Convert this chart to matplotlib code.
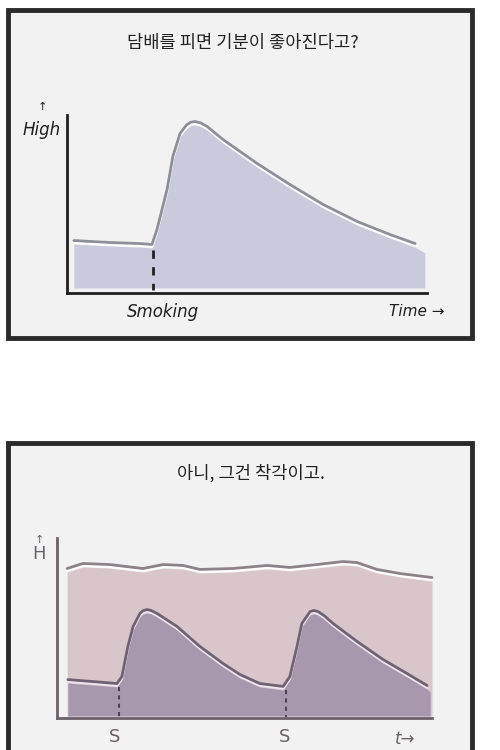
import matplotlib
matplotlib.use("Agg")
import matplotlib.pyplot as plt
import matplotlib.transforms as mtransforms
from matplotlib.patches import Rectangle

plt.rcParams['font.family'] = ['Noto Sans CJK KR', 'DejaVu Sans']

# --- top panel: one cigarette (time 0-100, "high" 0-100)
top_title = "담배를 피면 기분이 좋아진다고?"
top_t = [1.9, 11.9, 20.3, 23.6, 25.0, 27.8, 29.4, 31.4, 32.5, 33.3, 34.4, 35.6, 37.2,
         38.9, 43.3, 52.8, 61.9, 71.1, 80.6, 89.7, 96.7, 99.4]
top_high = [27.5, 26.4, 25.8, 25.3, 33.7, 56.2, 74.7, 87.6, 90.6, 92.6, 94.0, 94.4, 93.5,
            91.6, 84.3, 70.8, 59.0, 47.8, 38.2, 30.9, 25.8, 22.5]
top_base = 2.8
top_smoke_t = 23.9
top_smoke_high = 24.0

# --- bottom panel: real baseline vs repeated smoking
bot_title = "아니, 그건 착각이고."
base_t = [2.7, 6.9, 14.1, 22.9, 28.3, 33.6, 38.1, 46.9, 56.0, 62.1, 69.3, 76.3,
          80.0, 85.3, 91.5, 100.0]
base_high = [81.1, 83.9, 83.3, 81.1, 83.3, 82.8, 80.6, 81.1, 82.8, 81.7, 83.3, 85.0,
             84.4, 80.6, 78.3, 76.1]
smoke_t = [2.9, 9.6, 16.0, 17.3, 18.9, 20.3, 22.1, 22.9, 24.0, 25.1, 26.7, 32.0, 38.1,
           44.3, 48.8, 54.1, 60.3, 62.1, 64.0, 65.3, 67.5, 68.5, 69.6, 71.2, 73.6, 80.0,
           86.9, 93.3, 98.7, 99.5]
smoke_high = [19.4, 18.3, 17.2, 21.1, 37.8, 48.9, 56.1, 57.6, 58.3, 57.8, 56.1, 48.9, 37.8,
              28.3, 22.2, 17.2, 15.6, 21.1, 37.8, 50.6, 57.2, 57.8, 57.2, 55.0, 50.6, 40.6,
              30.6, 22.8, 16.1, 14.4]
bot_base = 1.1
bot_smoke_t = [16.5, 61.1]
bot_smoke_high = [17.0, 15.5]

W, H = 500, 750
fig = plt.figure(figsize=(5, 7.5), dpi=100)
fig.patch.set_facecolor('white')


def box(x0, y0, x1, y1):
    # pixel box (top-left origin) -> figure fraction rect
    return [x0 / W, 1 - y1 / H, (x1 - x0) / W, (y1 - y0) / H]


# panel frames
for y0, y1 in [(10, 338), (443, 780)]:
    r = box(8, y0, 472, y1)
    fig.patches.append(Rectangle((r[0], r[1]), r[2], r[3], transform=fig.transFigure,
                                 facecolor='#f2f2f2', edgecolor='#2b2b2b', lw=3.5, zorder=-5))


def style_axes(ax, color):
    ax.set_facecolor('none')
    for s in ['top', 'right']:
        ax.spines[s].set_visible(False)
    for s in ['left', 'bottom']:
        ax.spines[s].set_color(color)
        ax.spines[s].set_linewidth(2)
    ax.set_xticks([])
    ax.set_yticks([])
    ax.set_xlim(0, 100)
    ax.set_ylim(0, 100)


def offset_line(ax, x, y, color, lw, up):
    tr = mtransforms.offset_copy(ax.transData, fig=fig, x=0, y=up, units='dots')
    ax.plot(x, y, color=color, lw=lw, transform=tr, solid_capstyle='round',
            solid_joinstyle='round', clip_on=False)


# top chart
ax1 = fig.add_axes(box(67, 115, 427, 293))
style_axes(ax1, '#1f1f1f')
ax1.fill_between(top_t, top_base, top_high, color='#c9cbdc', lw=0)
offset_line(ax1, top_t[:-1], top_high[:-1], 'white', 2.0, 1.5)
offset_line(ax1, top_t[:-1], top_high[:-1], '#8d8f99', 2.0, 3.5)
ax1.plot([top_smoke_t, top_smoke_t], [top_smoke_high, 1.5], color='#222222', lw=2,
         linestyle=(0, (3, 3)))

fig.text(243 / W, 1 - 43 / H, top_title, ha='center', va='center', fontsize=12.7, color='#222222')
hand = dict(family='DejaVu Sans', style='italic', color='#1f1f1f', ha='center', va='center')
fig.text(42 / W, 1 - 107 / H, "↑", fontsize=8, **hand)
fig.text(42 / W, 1 - 130 / H, "High", fontsize=12, **hand)
fig.text(163 / W, 1 - 312 / H, "Smoking", fontsize=12, **hand)
fig.text(417 / W, 1 - 312 / H, "Time →", fontsize=11, **hand)

# bottom chart
ax2 = fig.add_axes(box(57, 538, 432, 718))
style_axes(ax2, '#6b6168')
ax2.fill_between(base_t, bot_base, base_high, color='#d8c6cb', lw=0)
offset_line(ax2, base_t, base_high, 'white', 2.0, 1.5)
offset_line(ax2, base_t, base_high, '#8e8289', 2.0, 3.5)
ax2.fill_between(smoke_t, bot_base, smoke_high, color='#a898ae', lw=0)
offset_line(ax2, smoke_t[:-1], smoke_high[:-1], '#eee6ee', 1.8, 1.5)
offset_line(ax2, smoke_t[:-1], smoke_high[:-1], '#6f6373', 2.0, 3.5)
for st, sh in zip(bot_smoke_t, bot_smoke_high):
    ax2.plot([st, st], [sh, 0.5], color='#4f4552', lw=1.5, linestyle=(0, (2, 2)))

fig.text(251 / W, 1 - 473 / H, bot_title, ha='center', va='center', fontsize=12.7, color='#222222')
hand2 = dict(family='DejaVu Sans', color='#6b6168', ha='center', va='center')
fig.text(39 / W, 1 - 540 / H, "↑", fontsize=8, **hand2)
fig.text(39 / W, 1 - 554 / H, "H", fontsize=13, **hand2)
fig.text(115 / W, 1 - 737 / H, "S", fontsize=13, **hand2)
fig.text(285 / W, 1 - 737 / H, "S", fontsize=13, **hand2)
fig.text(405 / W, 1 - 739 / H, "t→", fontsize=12, style='italic', **hand2)

fig.savefig("out.png", dpi=100)
